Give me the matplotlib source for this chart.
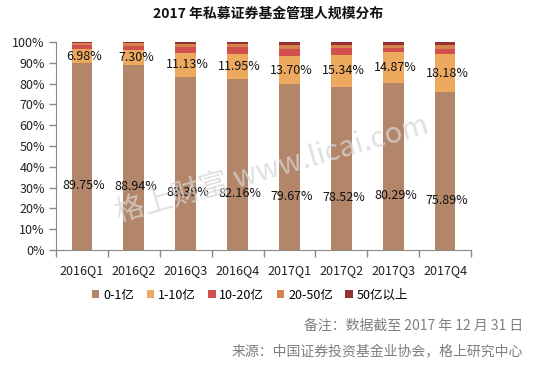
import matplotlib
matplotlib.use("Agg")
import matplotlib.pyplot as plt
import numpy as np

plt.rcParams['font.family'] = ['Noto Sans CJK SC', 'DejaVu Sans']

categories = ["2016Q1", "2016Q2", "2016Q3", "2016Q4", "2017Q1", "2017Q2", "2017Q3", "2017Q4"]
s_0_1 = [89.75, 88.94, 83.39, 82.16, 79.67, 78.52, 80.29, 75.89]
s_1_10 = [6.98, 7.30, 11.13, 11.95, 13.70, 15.34, 14.87, 18.18]
s_10_20 = [2.00, 2.06, 2.90, 3.29, 3.30, 3.45, 2.10, 2.50]
s_20_50 = [0.80, 1.10, 1.60, 1.60, 2.05, 1.40, 1.40, 2.10]
s_50p = [0.47, 0.60, 0.98, 1.00, 1.28, 1.29, 1.34, 1.33]
series_names = ["0-1亿", "1-10亿", "10-20亿", "20-50亿", "50亿以上"]
colors = ["#B38669", "#EDA95E", "#D24F4E", "#D4834D", "#973131"]

W, H = 536, 366
fig = plt.figure(figsize=(W / 100, H / 100), dpi=100)
ax = fig.add_axes([56 / W, 1 - 250 / H, (471 - 56) / W, (250 - 42) / H])

x = np.arange(len(categories))
series = [s_0_1, s_1_10, s_10_20, s_20_50, s_50p]
bottom = np.zeros(len(categories))
handles = []
for vals, c, name in zip(series, colors, series_names):
    v = np.array(vals)
    b = ax.bar(x, v, 0.4, bottom=bottom, color=c, label=name, linewidth=0)
    handles.append(b)
    bottom += v

for i in range(len(categories)):
    ax.text(x[i] + 0.04, s_0_1[i] / 2 - 14, f"{s_0_1[i]:.2f}%", ha='center', va='center',
            fontsize=9, color='#111111', zorder=5)
    ax.text(x[i] + 0.04, s_0_1[i] + s_1_10[i] / 2, f"{s_1_10[i]:.2f}%", ha='center', va='center',
            fontsize=9, color='#111111', zorder=5)

ax.set_xlim(-0.5, len(categories) - 0.5)
ax.set_ylim(0, 100)
ax.set_yticks(np.arange(0, 101, 10))
ax.set_yticklabels([f"{v}%" for v in range(0, 101, 10)], fontsize=9, color='#222222')
ax.set_xticks(x)
ax.set_xticklabels(categories, fontsize=9, color='#222222')
ax.set_xticks(np.arange(-0.5, len(categories), 1), minor=True)
ax.tick_params(axis='x', which='major', length=0, pad=10)
ax.tick_params(axis='x', which='minor', length=5, color='#888888', width=1)
ax.tick_params(axis='y', length=5, color='#888888', width=1, pad=3)
for s in ['top', 'right']:
    ax.spines[s].set_visible(False)
for s in ['left', 'bottom']:
    ax.spines[s].set_color('#888888')

ax.text(0.52, 0.385, "格上财富 www.licai.com", transform=ax.transAxes, rotation=16,
        fontsize=21, color='#d6d6d6', alpha=0.75, ha='center', va='center', zorder=6)

fig.text(268 / W, 1 - 14 / H, "2017 年私募证券基金管理人规模分布", ha='center', va='center',
         fontsize=10, fontweight='bold', color='#111111')

fig.legend(handles=handles, labels=series_names, loc='center', bbox_to_anchor=(250 / W, 1 - 295 / H),
           ncol=5, frameon=False, fontsize=9, handlelength=0.6, handleheight=0.6,
           handletextpad=0.3, columnspacing=1.0)

fig.text(523 / W, 1 - 326 / H, "备注：数据截至 2017 年 12 月 31 日", ha='right', va='center',
         fontsize=10, color='#7f7f7f')
fig.text(523 / W, 1 - 352 / H, "来源：中国证券投资基金业协会，格上研究中心", ha='right', va='center',
         fontsize=10, color='#7f7f7f')

fig.savefig("out.png", dpi=100)
